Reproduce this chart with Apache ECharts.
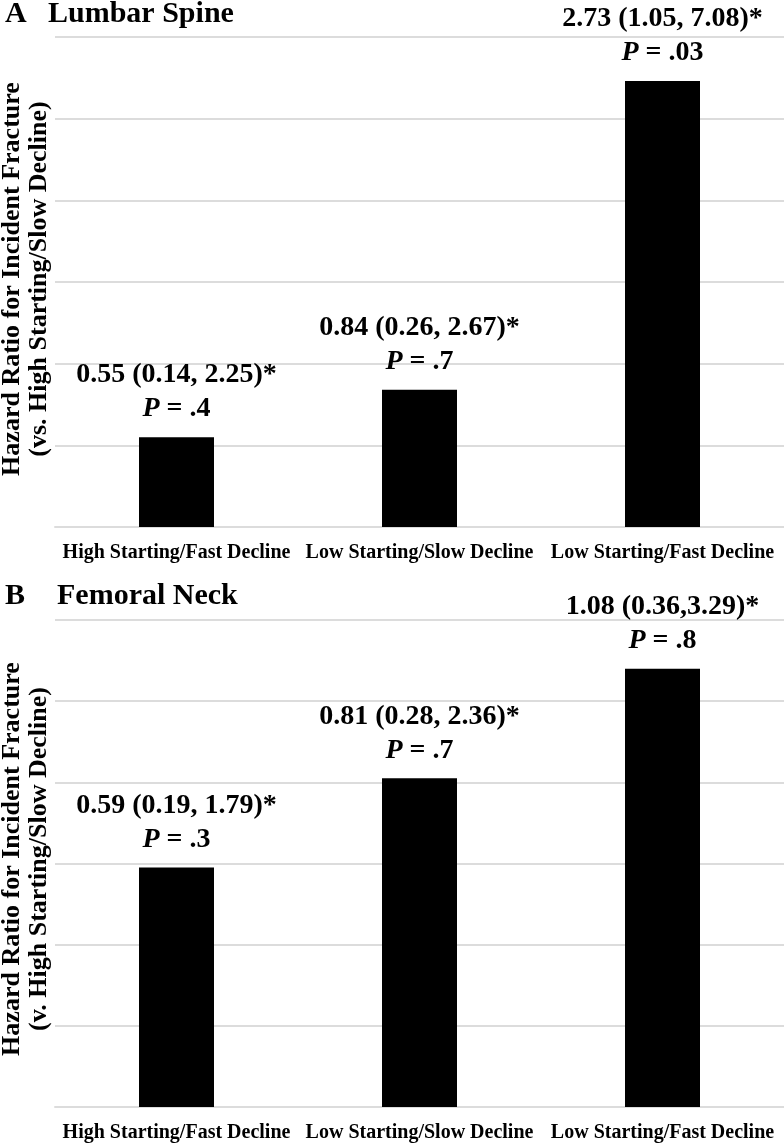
<!DOCTYPE html>
<html>
<head>
<meta charset="utf-8">
<script src="https://cdn.jsdelivr.net/npm/echarts@6/dist/echarts.min.js"></script>
<style>
  html, body { margin: 0; padding: 0; background: #fff; }
  #chart { width: 784px; height: 1143px; }
</style>
</head>
<body>
<div id="chart"></div>
<script>
const categories = ['High Starting/Fast Decline', 'Low Starting/Slow Decline', 'Low Starting/Fast Decline']

const spineHR = [0.55, 0.84, 2.73]
const spineCI = ['(0.14, 2.25)', '(0.26, 2.67)', '(1.05, 7.08)']
const spineP = ['.4', '.7', '.03']

const neckHR = [0.59, 0.81, 1.08]
const neckCI = ['(0.19, 1.79)', '(0.28, 2.36)', '(0.36,3.29)']
const neckP = ['.3', '.7', '.8']

const font = '"Liberation Serif", "Times New Roman", serif'
const gridColor = '#dcdcdc'

function labelFor(ci, p) {
  return function(params) {
    const i = params.dataIndex
    return '{a|' + params.value.toFixed(2) + ' ' + ci[i] + '*}\n{p|P}{a| = ' + p[i] + '}'
  }
}

const labelRich = {
  a: { fontFamily: font, fontWeight: 'bold', fontSize: 28, color: '#000', lineHeight: 34 },
  p: { fontFamily: font, fontWeight: 'bold', fontStyle: 'italic', fontSize: 28, color: '#000', lineHeight: 34 }
}

function xAxisFor(gridIndex) {
  return {
    type: 'category',
    gridIndex: gridIndex,
    data: categories,
    axisTick: { show: false },
    axisLine: { lineStyle: { color: gridColor, width: 2 } },
    axisLabel: {
      color: '#000', fontFamily: font, fontWeight: 'bold', fontSize: 20, margin: 16, interval: 0
    }
  }
}

function yAxisFor(gridIndex, max, interval) {
  return {
    type: 'value',
    gridIndex: gridIndex,
    min: 0,
    max: max,
    interval: interval,
    axisLabel: { show: false },
    axisTick: { show: false },
    axisLine: { show: false },
    splitLine: { lineStyle: { color: gridColor, width: 2 } }
  }
}

function yTitle(top, second) {
  return {
    type: 'text',
    rotation: Math.PI / 2,
    x: 26,
    y: top,
    style: {
      text: 'Hazard Ratio for Incident Fracture\n' + second,
      fontFamily: font, fontWeight: 'bold', fontSize: 26, lineHeight: 27,
      fill: '#000', align: 'center', verticalAlign: 'middle'
    }
  }
}

function panelTitle(x, y, text) {
  return {
    type: 'text',
    x: x,
    y: y,
    style: {
      text: text,
      font: 'bold 30px "Liberation Serif", "Times New Roman", serif',
      fill: '#000', verticalAlign: 'middle'
    }
  }
}

const chart = echarts.init(document.getElementById('chart'))

chart.setOption({
  backgroundColor: '#fff',
  animation: false,
  grid: [
    { left: 55, right: 0, top: 37, height: 490 },
    { left: 55, right: 0, top: 620, height: 487 }
  ],
  xAxis: [xAxisFor(0), xAxisFor(1)],
  yAxis: [yAxisFor(0, 3, 0.5), yAxisFor(1, 1.2, 0.2)],
  graphic: [
    panelTitle(5, 14, 'A'),
    panelTitle(48, 14, 'Lumbar Spine'),
    panelTitle(5, 596, 'B'),
    panelTitle(57, 596, 'Femoral Neck'),
    yTitle(279, '(vs. High Starting/Slow Decline)'),
    yTitle(859, '(v. High Starting/Slow Decline)')
  ],
  series: [
    {
      type: 'bar',
      xAxisIndex: 0,
      yAxisIndex: 0,
      data: spineHR,
      barWidth: 75,
      itemStyle: { color: '#000' },
      label: { show: true, position: 'top', distance: 11, formatter: labelFor(spineCI, spineP), rich: labelRich }
    },
    {
      type: 'bar',
      xAxisIndex: 1,
      yAxisIndex: 1,
      data: neckHR,
      barWidth: 75,
      itemStyle: { color: '#000' },
      label: { show: true, position: 'top', distance: 11, formatter: labelFor(neckCI, neckP), rich: labelRich }
    }
  ]
})
</script>
</body>
</html>
